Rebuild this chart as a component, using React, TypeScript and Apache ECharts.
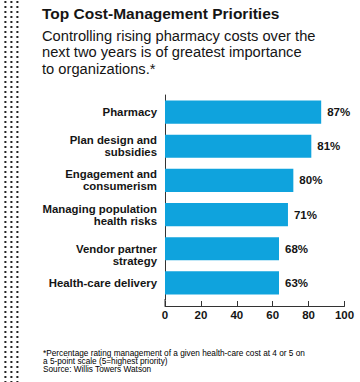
import React, { useEffect, useRef } from "react";
import * as echarts from "echarts";

const titleText = "Top Cost-Management Priorities";
const subtitleText =
  "Controlling rising pharmacy costs over the\nnext two years is of greatest importance\nto organizations.*";
const footnoteText =
  "*Percentage rating management of a given health-care cost at 4 or 5 on\na 5-point scale (5=highest priority)\nSource: Willis Towers Watson";

const categories = [
  "Pharmacy",
  "Plan design and\nsubsidies",
  "Engagement and\nconsumerism",
  "Managing population\nhealth risks",
  "Vendor partner\nstrategy",
  "Health-care delivery",
];
// bar lengths as drawn in the picture
const barValues = [87, 81.5, 71.5, 68.5, 63.5, 63.5];
// percentages printed next to the bars
const labelValues = [87, 81, 80, 71, 68, 63];
const xTicks = [0, 20, 40, 60, 80, 100];

const BLUE = "#0fa3dd";
const INK = "#151515";
const FONT = "'Liberation Sans', Arial, sans-serif";

export default function App() {
  const ref = useRef<HTMLDivElement>(null);
  useEffect(() => {
    if (!ref.current) return;
    const chart = echarts.init(ref.current, null, { renderer: "svg" });
    const dotCols = [5.4, 11.4, 17.4];
    chart.setOption({
      animation: false,
      backgroundColor: "#ffffff",
      title: [
        {
          text: titleText,
          left: 42,
          top: 5,
          padding: 0,
          textStyle: { fontFamily: FONT, fontWeight: 900, fontSize: 15.5, color: INK },
        },
        {
          text: subtitleText,
          left: 42,
          top: 27.5,
          padding: 0,
          textStyle: {
            fontFamily: FONT,
            fontWeight: "normal",
            fontSize: 14.7,
            lineHeight: 16.5,
            color: INK,
          },
        },
        {
          text: footnoteText,
          left: 43,
          top: 349,
          padding: 0,
          textStyle: {
            fontFamily: FONT,
            fontWeight: "normal",
            fontSize: 8.25,
            lineHeight: 8,
            color: "#000",
          },
        },
      ],
      graphic: [
        ...dotCols.map((x) => ({
          type: "line",
          shape: { x1: x, y1: 1, x2: x, y2: 382 },
          style: { stroke: "#222", lineWidth: 2, lineDash: [2, 3] },
          silent: true,
        })),
        {
          type: "line",
          shape: { x1: 165, y1: 299, x2: 165, y2: 306 },
          style: { stroke: "#333", lineWidth: 1 },
          silent: true,
        },
      ],
      grid: { left: 165, right: 15.5, top: 95, height: 205 },
      xAxis: {
        type: "value",
        min: xTicks[0],
        max: xTicks[xTicks.length - 1],
        interval: 20,
        offset: 6,
        splitLine: { show: false },
        axisLine: { show: true, lineStyle: { color: "#333", width: 1 } },
        axisTick: { show: true, inside: true, length: 5, lineStyle: { color: "#333" } },
        axisLabel: {
          margin: 3,
          fontFamily: FONT,
          fontWeight: "bold",
          fontSize: 11.5,
          color: INK,
        },
      },
      yAxis: {
        type: "category",
        inverse: true,
        data: categories,
        axisLine: { show: true, lineStyle: { color: "#333", width: 1 } },
        axisTick: { show: false },
        axisLabel: {
          margin: 8,
          fontFamily: FONT,
          fontWeight: "bold",
          fontSize: 11.4,
          lineHeight: 12,
          color: INK,
          align: "right",
          // the "Vendor partner" label sits a little lower in the original
          formatter: (v: string, i: number) => (i === 4 ? "\n" + v : v),
        },
      },
      series: [
        {
          type: "bar",
          data: barValues,
          barCategoryGap: "32%",
          itemStyle: { color: BLUE },
          label: {
            show: true,
            position: "right",
            distance: 6,
            fontFamily: FONT,
            fontWeight: "bold",
            fontSize: 11.5,
            color: INK,
            formatter: (p: any) => labelValues[p.dataIndex] + "%",
          },
        },
      ],
    });
    return () => chart.dispose();
  }, []);
  return (
    <div
      ref={ref}
      style={{ position: "fixed", left: 0, top: 0, width: 360, height: 382 }}
    />
  );
}
